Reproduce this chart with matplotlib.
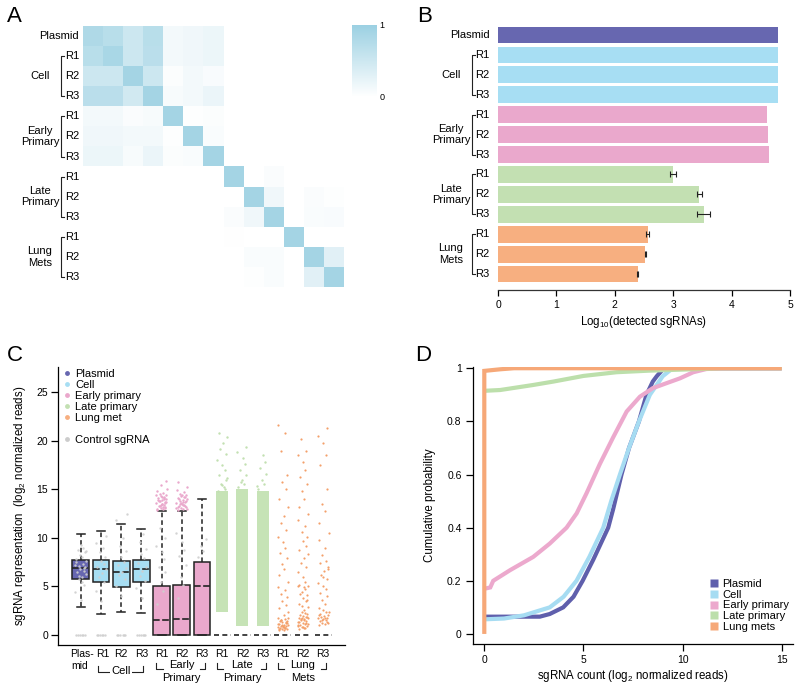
import numpy as np
import matplotlib
matplotlib.use('Agg')
import matplotlib.pyplot as plt
from matplotlib.colors import LinearSegmentedColormap
from matplotlib.lines import Line2D
from matplotlib.transforms import blended_transform_factory

plt.rcParams['font.family'] = ['Liberation Sans', 'DejaVu Sans']
plt.rcParams['font.size'] = 8
plt.rcParams['mathtext.default'] = 'regular'
plt.rcParams['axes.linewidth'] = 0.9

# ---------------- data ----------------
samples = ['Plasmid', 'Cell R1', 'Cell R2', 'Cell R3', 'Early R1', 'Early R2', 'Early R3',
           'Late R1', 'Late R2', 'Late R3', 'Lung R1', 'Lung R2', 'Lung R3']
groups = [('Cell', 1, 3), ('Early\nPrimary', 4, 6), ('Late\nPrimary', 7, 9), ('Lung\nMets', 10, 12)]
col_plasmid, col_cell, col_early, col_late, col_lung = '#6767b0', '#a7def3', '#eaa8cc', '#c3e0b2', '#f7af80'
sample_colors = [col_plasmid] + [col_cell] * 3 + [col_early] * 3 + [col_late] * 3 + [col_lung] * 3

# A: correlation between samples
corr = [
    [0.80, 0.70, 0.50, 0.70, 0.12, 0.15, 0.18, 0, 0, 0, 0, 0, 0],
    [0.70, 0.85, 0.50, 0.68, 0.12, 0.15, 0.18, 0, 0, 0, 0, 0, 0],
    [0.50, 0.50, 0.90, 0.50, 0.04, 0.12, 0.07, 0, 0, 0, 0, 0, 0],
    [0.68, 0.68, 0.45, 0.90, 0.08, 0.12, 0.20, 0, 0, 0, 0, 0, 0],
    [0.12, 0.12, 0.05, 0.08, 0.90, 0.02, 0.04, 0, 0, 0, 0, 0, 0],
    [0.15, 0.15, 0.12, 0.12, 0.02, 0.90, 0.06, 0, 0, 0, 0, 0, 0],
    [0.18, 0.18, 0.08, 0.20, 0.04, 0.06, 0.90, 0, 0, 0, 0, 0, 0],
    [0, 0, 0, 0, 0, 0, 0, 0.90, 0.00, 0.05, 0.00, 0.00, 0.00],
    [0, 0, 0, 0, 0, 0, 0, 0.00, 0.90, 0.15, 0.00, 0.05, 0.02],
    [0, 0, 0, 0, 0, 0, 0, 0.05, 0.15, 0.90, 0.00, 0.06, 0.07],
    [0, 0, 0, 0, 0, 0, 0, 0.01, 0.00, 0.00, 0.90, 0.00, 0.00],
    [0, 0, 0, 0, 0, 0, 0, 0.00, 0.06, 0.06, 0.00, 0.90, 0.30],
    [0, 0, 0, 0, 0, 0, 0, 0.00, 0.02, 0.06, 0.00, 0.30, 0.90],
]

# B: log10 detected sgRNAs
detected = [4.80, 4.79, 4.79, 4.79, 4.60, 4.62, 4.64, 2.99, 3.45, 3.52, 2.56, 2.52, 2.39]
detected_err = [0, 0, 0, 0, 0, 0, 0, 0.05, 0.04, 0.11, 0.02, 0.01, 0.01]

# C: box statistics (log2 normalized reads)
box_q1 = [5.77, 5.43, 4.98, 5.43, 0, 0, 0, 0, 0, 0, 0, 0, 0]
box_med = [6.94, 6.76, 6.45, 6.76, 1.50, 1.68, 5.05, 0, 0, 0, 0, 0, 0]
box_q3 = [7.73, 7.73, 7.59, 7.73, 5.08, 5.14, 7.48, 0, 0, 0, 0, 0, 0]
whis_lo = [2.85, 2.13, 2.41, 2.30, 0, 0, 0, 0, 0, 0, 0, 0, 0]
whis_hi = [10.4, 10.75, 11.43, 10.9, 12.77, 12.77, 14.04, 0, 0, 0, 0, 0, 0]

ctrl_plasmid = [0, 0, 0, 0, 0, 0, 3.6, 4.4, 5.2, 5.8, 6.0, 6.3, 6.5, 6.6, 6.8, 7.0, 7.1, 7.3, 7.5, 7.6,
                7.8, 8.0, 8.2, 8.5, 8.8, 9.0, 9.3, 7.2, 6.9, 6.1, 5.5, 8.6]
ctrl_cell1 = [0, 0, 0, 0, 0, 0, 3.5, 4.5, 5.5, 6.0, 6.4, 6.8, 7.0, 7.3, 7.6, 8.0, 8.5, 9.0, 9.5, 10.2]
ctrl_cell2 = [0, 0, 0, 0, 0, 0, 4.0, 5.0, 5.8, 6.2, 6.5, 6.9, 7.2, 7.5, 8.0, 8.6, 9.2, 10.0, 11.8, 12.5]
ctrl_cell3 = [0, 0, 0, 0, 0, 0, 3.8, 4.8, 5.6, 6.1, 6.6, 7.0, 7.4, 7.9, 8.3, 8.9, 9.6, 10.4]
ctrl_early1 = [3.2, 4.5, 5.5, 6.5, 7.0, 7.8, 8.5, 9.2, 10.0, 11.0]
ctrl_early2 = [3.8, 5.2, 6.0, 7.2, 8.1, 8.8, 9.6, 10.5]
ctrl_early3 = [8.0, 8.6, 9.2, 9.9]

out_early1 = [12.9, 13.0, 13.1, 13.2, 13.3, 13.4, 13.5, 13.6, 13.7, 13.8, 13.9, 14.0, 14.1, 14.2,
              14.3, 14.4, 14.5, 14.6, 14.8, 15.0, 13.0, 13.2, 13.4, 13.6, 13.8, 14.0, 14.2, 14.4,
              13.1, 13.3, 13.5, 13.7, 13.9, 14.1, 15.4, 15.9]
out_early2 = [12.9, 13.0, 13.1, 13.2, 13.3, 13.4, 13.5, 13.6, 13.7, 13.8, 13.9, 14.0, 14.1, 14.2,
              14.3, 14.4, 14.5, 14.7, 14.9, 13.0, 13.2, 13.4, 13.6, 13.8, 14.0, 14.2, 14.4,
              13.1, 13.3, 13.5, 13.7, 15.2, 15.8]

late_band_lo = [2.4, 0.9, 0.9]
late_band_hi = [14.8, 15.0, 14.8]
late_sparse1 = [14.8, 15.2, 15.6, 16.0, 16.5, 17.0, 17.5, 18.0, 18.6, 19.2, 19.8, 20.4, 20.8, 15.0, 15.4, 16.2]
late_sparse2 = [15.2, 15.6, 16.0, 16.5, 17.0, 17.6, 18.2, 18.8, 19.4, 15.8]
late_sparse3 = [15.0, 15.5, 16.0, 16.6, 17.2, 17.8, 18.5, 15.3]

lung1 = [0.5, 0.55, 0.6, 0.65, 0.7, 0.75, 0.8, 0.85, 0.9, 0.95, 1.0, 1.05, 1.1, 1.2, 1.3, 1.4, 1.5,
         1.6, 1.7, 1.8, 0.6, 0.8, 1.0, 1.2, 1.4, 0.7, 0.9, 1.1, 1.3, 1.5, 2.1, 2.4, 2.8, 3.1, 3.5,
         3.9, 4.2, 4.6, 4.9, 5.5, 6.2, 6.8, 7.3, 7.9, 8.4, 9.0, 9.6, 10.1, 10.8, 11.5, 12.3, 13.2,
         14.0, 15.0, 15.8, 16.5, 19.0, 20.8, 21.6]
lung2 = [0.6, 0.7, 0.8, 0.9, 1.0, 1.1, 1.2, 1.3, 1.4, 1.5, 1.6, 1.7, 1.8, 1.9, 2.0, 2.2, 2.4, 0.7,
         0.9, 1.1, 1.3, 1.5, 1.7, 1.9, 2.1, 2.3, 0.8, 1.0, 1.2, 1.6, 2.6, 2.9, 3.2, 3.5, 3.8, 4.1,
         4.4, 4.7, 5.0, 5.0, 5.1, 4.9, 3.0, 3.6, 4.2, 5.5, 6.0, 6.5, 7.0, 7.4, 7.9, 8.3, 8.8, 9.2,
         9.7, 10.1, 10.6, 11.2, 11.8, 12.5, 13.2, 14.0, 14.8, 15.5, 16.3, 17.0, 17.8, 18.5, 19.0, 20.2]
lung3 = [1.0, 1.1, 1.2, 1.3, 1.4, 1.5, 1.6, 1.7, 1.8, 1.9, 2.0, 2.1, 2.2, 2.4, 2.6, 1.2, 1.5, 1.8,
         2.1, 2.4, 2.8, 3.2, 3.6, 4.0, 4.3, 4.7, 5.0, 5.4, 5.8, 6.2, 6.6, 7.0, 7.4, 7.6, 6.0, 6.8,
         8.2, 9.0, 9.8, 10.5, 11.5, 12.8, 13.5, 15.0, 17.5, 18.5, 19.8, 20.5, 21.3]

# D: cumulative distributions
cdf_plasmid_x = [0, 1, 2, 2.8, 3.3, 3.98, 4.5, 4.96, 5.5, 6.0, 6.25, 6.5, 6.92, 7.3, 7.8, 8.18, 8.5, 8.7, 9.0, 9.3, 15]
cdf_plasmid_p = [0.065, 0.065, 0.065, 0.065, 0.075, 0.10, 0.14, 0.20, 0.28, 0.36, 0.40, 0.47, 0.60, 0.70,
                 0.80, 0.90, 0.95, 0.97, 0.995, 1.0, 1.0]
cdf_cell_x = [0, 1, 2, 3.3, 4.0, 4.65, 5.3, 6.0, 6.4, 6.84, 7.3, 7.8, 8.35, 9.0, 9.5, 15]
cdf_cell_p = [0.055, 0.058, 0.07, 0.10, 0.14, 0.20, 0.29, 0.40, 0.50, 0.60, 0.70, 0.80, 0.90, 0.97, 1.0, 1.0]
cdf_early_x = [0, 0.3, 0.45, 1.3, 2.47, 3.3, 4.15, 4.66, 5.16, 5.83, 6.5, 7.18, 7.85, 8.5, 9.2, 9.87, 10.54, 11.2, 12, 15]
cdf_early_p = [0.17, 0.175, 0.2, 0.24, 0.29, 0.34, 0.40, 0.454, 0.53, 0.64, 0.74, 0.837, 0.893, 0.925,
               0.944, 0.962, 0.985, 0.997, 1.0, 1.0]
cdf_late_x = [0, 0.8, 2.47, 3.5, 5.0, 6.67, 8.35, 10.9, 12, 15]
cdf_late_p = [0.915, 0.918, 0.937, 0.95, 0.971, 0.985, 0.991, 0.997, 1.0, 1.0]
cdf_lung_x = [0, 0, 0.4, 0.8, 1.5, 15]
cdf_lung_p = [0, 0.99, 0.993, 0.996, 1.0, 1.0]

# ---------------- figure ----------------
fig = plt.figure(figsize=(8, 6.9), dpi=100)


def side_labels(ax, xr, xb, tick, xg):
    tr = blended_transform_factory(ax.transAxes, ax.transData)
    ax.text(xr, 0, 'Plasmid', transform=tr, ha='right', va='center', fontsize=8)
    for name, i0, i1 in groups:
        for k, i in enumerate(range(i0, i1 + 1)):
            ax.text(xr, i, 'R%d' % (k + 1), transform=tr, ha='right', va='center', fontsize=8)
        ax.plot([xb + tick, xb, xb, xb + tick], [i0, i0, i1, i1], transform=tr,
                color='#222222', lw=0.8, clip_on=False)
        ax.text(xg, (i0 + i1) / 2, name, transform=tr, ha='center', va='center',
                fontsize=8, linespacing=1.2)


# ---- A: heatmap ----
axA = fig.add_axes([83 / 800, 1 - 287 / 690, 261 / 800, 261 / 690])
cmap = LinearSegmentedColormap.from_list('wb', ['#ffffff', '#9bd0e2'])
im = axA.imshow(np.array(corr), cmap=cmap, vmin=0, vmax=1, aspect='auto', interpolation='nearest')
axA.set_xticks([])
axA.set_yticks([])
for s in axA.spines.values():
    s.set_visible(False)
side_labels(axA, -0.015, -0.084, 0.012, -0.165)

cax = fig.add_axes([352 / 800, 1 - 97 / 690, 25 / 800, 72 / 690])
cb = fig.colorbar(im, cax=cax, ticks=[0, 1])
cb.outline.set_visible(False)
cax.tick_params(length=0, labelsize=6.5, pad=2)
cax.set_yticklabels(['0', '1'])

# ---- B: detected sgRNAs ----
axB = fig.add_axes([498 / 800, 1 - 290 / 690, 292 / 800, 264 / 690])
ypos = np.arange(len(samples))
axB.barh(ypos, detected, height=0.84, color=sample_colors)
err_idx = [i for i in range(len(samples)) if detected_err[i] > 0]
axB.errorbar([detected[i] for i in err_idx], [ypos[i] for i in err_idx],
             xerr=[detected_err[i] for i in err_idx], fmt='none', ecolor='#222222',
             elinewidth=0.8, capsize=2, capthick=0.8)
axB.set_xlim(0, 5)
axB.set_ylim(12.8, -0.45)
axB.set_yticks([])
for s in ['left', 'right', 'top']:
    axB.spines[s].set_visible(False)
axB.spines['bottom'].set_color('#333333')
axB.tick_params(axis='x', length=4, width=0.9, labelsize=7.5, pad=3)
axB.set_xlabel('Log$_{10}$(detected sgRNAs)', fontsize=8.3, labelpad=3)
side_labels(axB, -0.029, -0.09, 0.011, -0.161)

# ---- C: box plots ----
axC = fig.add_axes([57.7 / 800, 1 - 645 / 690, 287.3 / 800, 278 / 690])
pos = np.arange(len(samples))
stats = [dict(med=box_med[i], q1=box_q1[i], q3=box_q3[i], whislo=whis_lo[i],
              whishi=whis_hi[i], fliers=[]) for i in range(len(samples))]
full = [i for i in range(len(samples)) if box_q3[i] > 0]
flat = [i for i in range(len(samples)) if box_q3[i] == 0]
dash_w = dict(color='#222222', lw=1.1, ls=(0, (3, 2)))
bp = axC.bxp([stats[i] for i in full], positions=[pos[i] for i in full], widths=0.83,
             patch_artist=True, showfliers=False, capwidths=0.4,
             boxprops=dict(edgecolor='#222222', lw=1.1),
             whiskerprops=dash_w, capprops=dict(color='#222222', lw=1.1),
             medianprops=dict(color='#222222', lw=1.2, ls=(0, (4, 1.5))))
for patch, i in zip(bp['boxes'], full):
    patch.set_facecolor(sample_colors[i])
axC.bxp([stats[i] for i in flat], positions=[pos[i] for i in flat], widths=0.83,
        showbox=False, showcaps=False, showfliers=False, whiskerprops=dash_w,
        medianprops=dict(color='#222222', lw=1.2, ls=(0, (3, 2))))

jit = np.array([-0.21, 0.07, -0.04, 0.19, -0.14, 0.12, 0.01, -0.26, 0.17, -0.09,
                0.04, 0.24, -0.18, 0.14, -0.02, 0.22, -0.07, 0.09, -0.23, 0.27])


def strip(i, vals, color, alpha=1.0, s=3):
    vals = np.asarray(vals, float)
    off = np.resize(jit, len(vals))
    axC.scatter(pos[i] + off, vals, s=s, color=color, lw=0, alpha=alpha, zorder=4)


for i, v in zip(range(7), [ctrl_plasmid, ctrl_cell1, ctrl_cell2, ctrl_cell3,
                           ctrl_early1, ctrl_early2, ctrl_early3]):
    strip(i, v, '#cfcfcf', alpha=0.9)
strip(4, out_early1, col_early)
strip(5, out_early2, col_early)

for k, i in enumerate([7, 8, 9]):
    axC.bar(pos[i], late_band_hi[k] - late_band_lo[k], bottom=late_band_lo[k], width=0.6,
            color='#c6e3b6', lw=0, zorder=3)
strip(7, late_sparse1, col_late)
strip(8, late_sparse2, col_late)
strip(9, late_sparse3, col_late)
strip(10, lung1, '#f4a06a', s=2.5)
strip(11, lung2, '#f4a06a', s=2.5)
strip(12, lung3, '#f4a06a', s=2.5)

axC.set_xlim(-1.14, 13.08)
axC.set_ylim(-1.03, 27.6)
axC.set_yticks([0, 5, 10, 15, 20, 25])
axC.set_xticks([])
for s in ['right', 'top']:
    axC.spines[s].set_visible(False)
axC.tick_params(axis='y', length=5, width=0.9, labelsize=7.5, pad=2)
axC.set_ylabel('sgRNA representation  (log$_2$ normalized reads)', fontsize=8.3, labelpad=6)


def fy(px):
    return (645 - px) / 278


trC = blended_transform_factory(axC.transData, axC.transAxes)
axC.text(pos[0] + 0.05, fy(654), 'Plas-', transform=trC, ha='center', va='center', fontsize=7.5)
axC.text(pos[0] - 0.05, fy(666), 'mid', transform=trC, ha='center', va='center', fontsize=7.5)
for name, i0, i1 in groups:
    for k, i in enumerate(range(i0, i1 + 1)):
        xo = 0.1 if i == 1 else 0.0
        axC.text(pos[i] + xo, fy(654), 'R%d' % (k + 1), transform=trC, ha='center', va='center',
                 fontsize=7.5)
    mid = pos[(i0 + i1) // 2]
    if name == 'Cell':
        yb = fy(672)
        axC.plot([pos[i0] - 0.14, pos[i0] - 0.14, pos[i1] + 0.08, pos[i1] + 0.08],
                 [yb + 0.022, yb, yb, yb + 0.022], transform=trC, color='#222222', lw=0.8, clip_on=False)
        axC.text(mid, fy(671), name, transform=trC, ha='center', va='center', fontsize=8,
                 bbox=dict(facecolor='white', edgecolor='none', pad=1.0))
    else:
        yb = fy(669)
        axC.plot([pos[i0] - 0.25, pos[i0] - 0.25, pos[i0] + 0.05], [yb + 0.022, yb, yb],
                 transform=trC, color='#222222', lw=0.8, clip_on=False)
        axC.plot([pos[i1] - 0.1, pos[i1] + 0.15, pos[i1] + 0.15], [yb, yb, yb + 0.022],
                 transform=trC, color='#222222', lw=0.8, clip_on=False)
        top, bottom = name.split('\n')
        axC.text(mid, fy(665), top, transform=trC, ha='center', va='center', fontsize=8)
        axC.text(mid, fy(678), bottom, transform=trC, ha='center', va='center', fontsize=8)

leg_handles = [Line2D([], [], ls='none', marker='o', ms=3.5, mec='none', mfc=c)
               for c in [col_plasmid, col_cell, col_early, col_late, col_lung]]
leg_handles += [Line2D([], [], ls='none'),
                Line2D([], [], ls='none', marker='o', ms=3.5, mec='none', mfc='#cccccc')]
axC.legend(leg_handles, ['Plasmid', 'Cell', 'Early primary', 'Late primary', 'Lung met', '',
                         'Control sgRNA'],
           loc='upper left', bbox_to_anchor=(0.0, 1.01), frameon=False, fontsize=8,
           handlelength=0.8, handletextpad=0.4, labelspacing=0.1, borderaxespad=0)

# ---- D: cumulative probability ----
axD = fig.add_axes([472.7 / 800, 1 - 644.3 / 690, 320.3 / 800, 277.4 / 690])
curves = [(cdf_plasmid_x, cdf_plasmid_p, '#5f5fac', 'Plasmid'),
          (cdf_cell_x, cdf_cell_p, '#a6dcf2', 'Cell'),
          (cdf_early_x, cdf_early_p, '#eca9cd', 'Early primary'),
          (cdf_late_x, cdf_late_p, '#bcdfab', 'Late primary'),
          (cdf_lung_x, cdf_lung_p, '#f6a878', 'Lung mets')]
for x, p, c, lab in curves:
    axD.plot(x, p, color=c, lw=3, solid_capstyle='butt', solid_joinstyle='miter')
axD.set_xlim(-0.585, 15.57)
axD.set_ylim(-0.039, 1.005)
axD.set_xticks([0, 5, 10, 15])
axD.set_yticks([0, 0.2, 0.4, 0.6, 0.8, 1.0])
axD.set_yticklabels(['0', '0.2', '0.4', '0.6', '0.8', '1'])
for s in ['right', 'top']:
    axD.spines[s].set_visible(False)
axD.tick_params(length=5, width=0.9, labelsize=7.5, pad=3)
axD.set_xlabel('sgRNA count (log$_2$ normalized reads)', fontsize=8.3, labelpad=2)
axD.set_ylabel('Cumulative probability', fontsize=8.3, labelpad=8)
d_handles = [Line2D([], [], ls='none', marker='s', ms=5.5, mec='none', mfc=c) for _, _, c, _ in curves]
axD.legend(d_handles, [lab for _, _, _, lab in curves], loc='lower right',
           bbox_to_anchor=(1.0, 0.03), frameon=False, fontsize=8, handlelength=0.7,
           handletextpad=0.4, labelspacing=0.05, borderaxespad=0)

# panel letters
for lab, x, y in [('A', 7, 6), ('B', 417, 6), ('C', 7, 345), ('D', 415, 345)]:
    fig.text(x / 800, 1 - y / 690, lab, fontsize=16, ha='left', va='top')

fig.savefig('out.png', dpi=100)
